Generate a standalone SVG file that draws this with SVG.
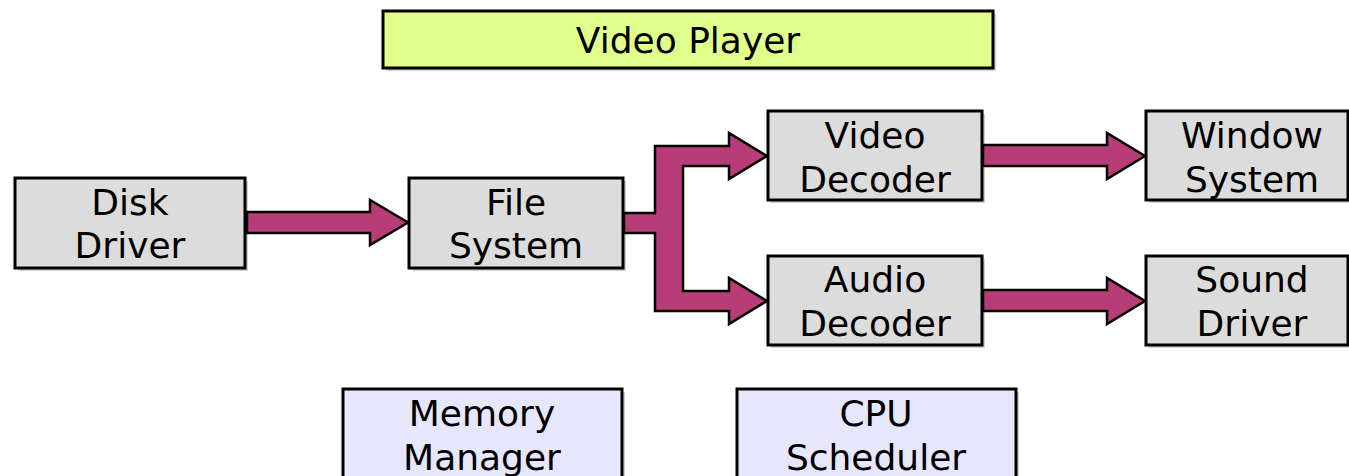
<svg xmlns="http://www.w3.org/2000/svg" width="1349" height="476" viewBox="0 0 1349 476">
<style>
.box{stroke:#000;stroke-width:3}
.gray{fill:#dcdcdc}
.yel{fill:#e0ff8a}
.lav{fill:#e6e6fc}
.sh{fill:#b4b4b4;opacity:0.6}
.t{font-family:"DejaVu Sans",Verdana,sans-serif;font-size:36px;fill:#000;text-anchor:middle}
.arr{fill:#b83c78;stroke:#000;stroke-width:2.5;stroke-linejoin:miter}
</style>
<rect width="1349" height="476" fill="#fff"/>
<g id="video-player">
<rect class="sh" x="386" y="14" width="610" height="57"/>
<rect class="box yel" x="383" y="11" width="610" height="57"/>
<text class="t" x="688" y="53" font-size="35">Video Player</text>
</g>
<g id="disk-driver">
<rect class="sh" x="18" y="181" width="230" height="90"/>
<rect class="box gray" x="15" y="178" width="230" height="90"/>
<text class="t" x="130" y="215">Disk</text>
<text class="t" x="130" y="258">Driver</text>
</g>
<g id="file-system">
<rect class="sh" x="412" y="181" width="214" height="90"/>
<rect class="box gray" x="409" y="178" width="214" height="90"/>
<text class="t" x="516" y="215">File</text>
<text class="t" x="516" y="258">System</text>
</g>
<g id="video-decoder">
<rect class="sh" x="771" y="114" width="214" height="89"/>
<rect class="box gray" x="768" y="111" width="214" height="89"/>
<text class="t" x="875" y="148">Video</text>
<text class="t" x="875" y="192">Decoder</text>
</g>
<g id="audio-decoder">
<rect class="sh" x="771" y="259" width="214" height="89"/>
<rect class="box gray" x="768" y="256" width="214" height="89"/>
<text class="t" x="875" y="292">Audio</text>
<text class="t" x="875" y="336">Decoder</text>
</g>
<g id="window-system">
<rect class="sh" x="1149" y="114" width="204" height="89"/>
<rect class="box gray" x="1146" y="111" width="202" height="89"/>
<text class="t" x="1252" y="148">Window</text>
<text class="t" x="1252" y="192">System</text>
</g>
<g id="sound-driver">
<rect class="sh" x="1149" y="259" width="204" height="89"/>
<rect class="box gray" x="1146" y="256" width="202" height="89"/>
<text class="t" x="1252" y="292">Sound</text>
<text class="t" x="1252" y="336">Driver</text>
</g>
<g id="memory-manager">
<rect class="sh" x="346" y="392" width="279" height="100"/>
<rect class="box lav" x="343" y="389" width="279" height="100"/>
<text class="t" x="482" y="426">Memory</text>
<text class="t" x="482" y="470">Manager</text>
</g>
<g id="cpu-scheduler">
<rect class="sh" x="740" y="392" width="279" height="100"/>
<rect class="box lav" x="737" y="389" width="279" height="100"/>
<text class="t" x="876" y="426">CPU</text>
<text class="t" x="876" y="470">Scheduler</text>
</g>
<g id="connectors">
<polygon class="arr" points="247,212 370,212 370,200 408,222.5 370,245 370,233 247,233"/>
<polygon class="arr" points="624,213 655,213 655,146 729,146 729,133 767,156 729,179 729,166 683,166 683,291 729,291 729,278 767,301 729,324 729,311 655,311 655,233 624,233"/>
<polygon class="arr" points="983,145 1107,145 1107,133 1145,156 1107,179 1107,166 983,166"/>
<polygon class="arr" points="983,290 1107,290 1107,278 1145,301 1107,324 1107,311 983,311"/>
</g>
</svg>
